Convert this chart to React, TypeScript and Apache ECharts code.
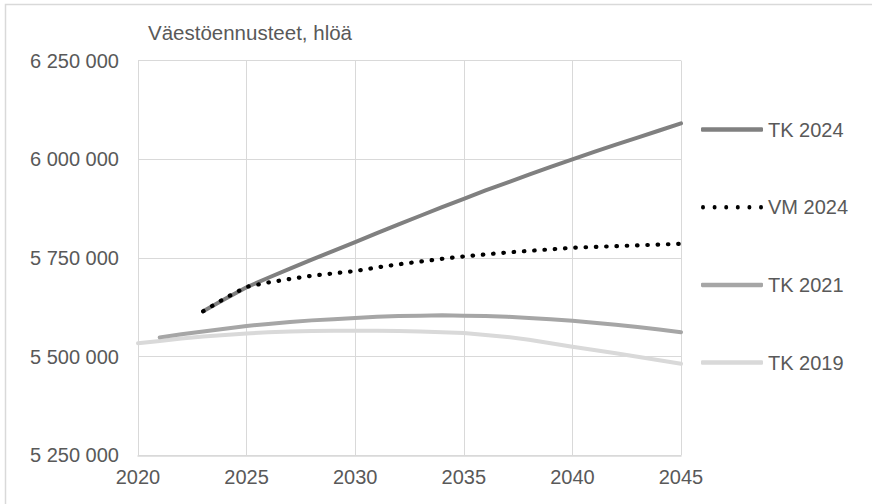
import React, { useEffect, useRef } from "react";
import * as echarts from "echarts";

const titleText = "Väestöennusteet, hlöä";

const yearsTK2024 = [2023, 2024, 2025, 2026, 2027, 2028, 2029, 2030, 2031, 2032, 2033, 2034, 2035, 2036, 2037, 2038, 2039, 2040, 2041, 2042, 2043, 2044, 2045];
const valuesTK2024 = [5615000, 5646000, 5676000, 5700000, 5723000, 5746000, 5768000, 5790000, 5813000, 5835000, 5857000, 5879000, 5900000, 5921000, 5941000, 5961000, 5981000, 6000000, 6019000, 6037000, 6055000, 6073000, 6091000];

const yearsVM2024 = [2023, 2024, 2025, 2026, 2027, 2028, 2029, 2030, 2031, 2032, 2033, 2034, 2035, 2036, 2037, 2038, 2039, 2040, 2041, 2042, 2043, 2044, 2045];
const valuesVM2024 = [5615000, 5648000, 5677000, 5688000, 5697000, 5705000, 5711000, 5717000, 5726000, 5734000, 5741000, 5748000, 5754000, 5759000, 5764000, 5768000, 5772000, 5776000, 5778000, 5780000, 5782000, 5784000, 5786000];

const yearsTK2021 = [2021, 2022, 2023, 2024, 2025, 2026, 2027, 2028, 2029, 2030, 2031, 2032, 2033, 2034, 2035, 2036, 2037, 2038, 2039, 2040, 2041, 2042, 2043, 2044, 2045];
const valuesTK2021 = [5549000, 5557000, 5564000, 5571000, 5578000, 5583000, 5588000, 5592000, 5595000, 5598000, 5601000, 5603000, 5604000, 5605000, 5604000, 5603000, 5601000, 5598000, 5595000, 5591000, 5586000, 5581000, 5575000, 5569000, 5562000];

const yearsTK2019 = [2020, 2021, 2022, 2023, 2024, 2025, 2026, 2027, 2028, 2029, 2030, 2031, 2032, 2033, 2034, 2035, 2036, 2037, 2038, 2039, 2040, 2041, 2042, 2043, 2044, 2045];
const valuesTK2019 = [5534000, 5540000, 5546000, 5551000, 5555000, 5559000, 5562000, 5564000, 5565000, 5566000, 5566000, 5566000, 5565000, 5564000, 5562000, 5560000, 5555000, 5550000, 5543000, 5534000, 5525000, 5517000, 5509000, 5500000, 5491000, 5482000];

const seriesNames = ["TK 2024", "VM 2024", "TK 2021", "TK 2019"];

const pairs = (xs: number[], ys: number[]) => xs.map((x, i) => [x, ys[i]]);

const fmt = (v: number) => String(Math.round(v)).replace(/\B(?=(\d{3})+(?!\d))/g, " ");

const FONT = "'Liberation Sans', Arial, sans-serif";
const TEXT = "#595959";
const GRID = "#d9d9d9";

// dotted legend icon: six round dots across a 62 x 4 box
const dotCenters = [2, 13.6, 25.2, 36.8, 48.4, 60];
const dotPath =
  "path://" +
  dotCenters.map((c) => `M${c - 2},2a2,2 0 1,0 4,0a2,2 0 1,0 -4,0Z`).join("");

export default function App() {
  const ref = useRef<HTMLDivElement>(null);
  useEffect(() => {
    if (!ref.current) return;
    const chart = echarts.init(ref.current, undefined, { renderer: "svg" });
    chart.setOption({
      animation: false,
      backgroundColor: "#ffffff",
      textStyle: { fontFamily: FONT },
      grid: { left: 138, right: 191, top: 60.6, bottom: 48.6, containLabel: false },
      xAxis: {
        type: "value",
        min: 2020,
        max: 2045,
        interval: 5,
        axisLine: { show: true, lineStyle: { color: GRID, width: 1.5 } },
        axisTick: { show: false },
        splitLine: { show: true, lineStyle: { color: GRID, width: 1 } },
        axisLabel: { color: TEXT, fontSize: 20, fontFamily: FONT, margin: 12, formatter: (v: number) => String(v) },
      },
      yAxis: {
        type: "value",
        min: 5250000,
        max: 6250000,
        interval: 250000,
        axisLine: { show: false },
        axisTick: { show: false },
        splitLine: { show: true, lineStyle: { color: GRID, width: 1 } },
        axisLabel: { color: TEXT, fontSize: 20, fontFamily: FONT, margin: 19, formatter: fmt },
      },
      legend: {
        data: [
          { name: seriesNames[0], icon: "roundRect" },
          { name: seriesNames[1], icon: dotPath },
          { name: seriesNames[2], icon: "roundRect" },
          { name: seriesNames[3], icon: "roundRect" },
        ],
        orient: "vertical",
        left: 701,
        top: 119.5,
        padding: 0,
        itemWidth: 62,
        itemHeight: 4.5,
        itemGap: 57.7,
        symbolKeepAspect: false,
        textStyle: { color: TEXT, fontSize: 20, fontFamily: FONT, lineHeight: 20 },
      },
      graphic: [
        {
          type: "rect",
          shape: { x: 5.5, y: 4.5, width: 1000, height: 700 },
          style: { fill: "none", stroke: GRID, lineWidth: 1.5 },
          silent: true,
          z: -10,
        },
        {
          type: "text",
          x: 148,
          y: 32,
          style: { text: titleText, fill: TEXT, font: `20.5px ${FONT}`, textVerticalAlign: "middle", verticalAlign: "middle" },
        },
      ],
      series: [
        {
          name: "TK 2019",
          type: "line",
          data: pairs(yearsTK2019, valuesTK2019),
          symbol: "none",
          lineStyle: { color: "#d9d9d9", width: 4, cap: "round", join: "round" },
          itemStyle: { color: "#d9d9d9" },
          z: 2,
        },
        {
          name: "TK 2021",
          type: "line",
          data: pairs(yearsTK2021, valuesTK2021),
          symbol: "none",
          lineStyle: { color: "#a6a6a6", width: 4, cap: "round", join: "round" },
          itemStyle: { color: "#a6a6a6" },
          z: 3,
        },
        {
          name: "TK 2024",
          type: "line",
          data: pairs(yearsTK2024, valuesTK2024),
          symbol: "none",
          lineStyle: { color: "#808080", width: 4, cap: "round", join: "round" },
          itemStyle: { color: "#808080" },
          z: 4,
        },
        {
          name: "VM 2024",
          type: "line",
          data: pairs(yearsVM2024, valuesVM2024),
          symbol: "none",
          lineStyle: { color: "#000000", width: 4.2, type: [0.5, 9.8], cap: "round", join: "round" },
          itemStyle: { color: "#000000" },
          z: 5,
        },
      ],
    });
    return () => chart.dispose();
  }, []);
  return (
    <div
      ref={ref}
      style={{ position: "absolute", left: 0, top: 0, width: 872, height: 504, background: "#fff" }}
    />
  );
}
